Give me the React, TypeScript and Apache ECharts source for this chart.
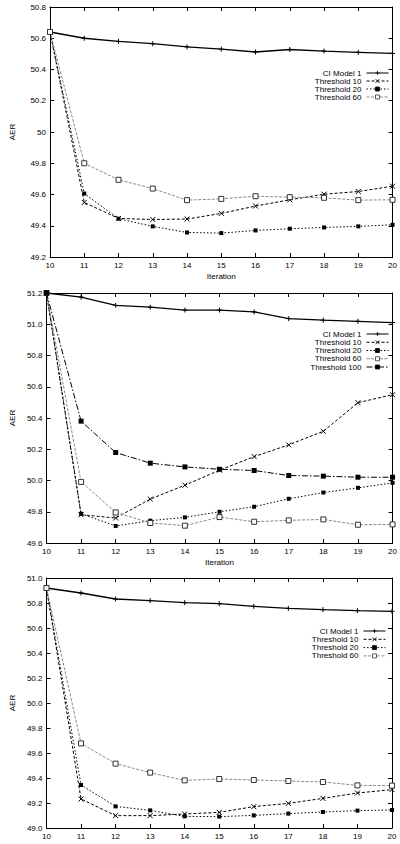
import React, { useEffect, useRef } from "react";
import * as echarts from "echarts";

const iterations = [10, 11, 12, 13, 14, 15, 16, 17, 18, 19, 20];

// Chart 1
const ci1 = [50.64, 50.6, 50.58, 50.565, 50.545, 50.53, 50.512, 50.528, 50.518, 50.51, 50.503];
const t10_1 = [50.64, 49.549, 49.447, 49.44, 49.443, 49.479, 49.526, 49.566, 49.602, 49.619, 49.653];
const t20_1 = [50.64, 49.606, 49.445, 49.396, 49.357, 49.353, 49.37, 49.381, 49.389, 49.396, 49.406];
const t60_1 = [50.64, 49.8, 49.694, 49.638, 49.564, 49.572, 49.589, 49.583, 49.579, 49.564, 49.566];

// Chart 2
const ci2 = [51.2, 51.174, 51.121, 51.109, 51.091, 51.091, 51.079, 51.036, 51.026, 51.019, 51.011];
const t10_2 = [51.2, 49.781, 49.76, 49.881, 49.97, 50.066, 50.153, 50.228, 50.315, 50.498, 50.549];
const t20_2 = [51.2, 49.787, 49.709, 49.743, 49.764, 49.8, 49.832, 49.883, 49.923, 49.953, 49.985];
const t60_2 = [51.2, 49.991, 49.796, 49.728, 49.711, 49.766, 49.736, 49.745, 49.751, 49.717, 49.719];
const t100_2 = [51.2, 50.38, 50.179, 50.111, 50.087, 50.072, 50.064, 50.032, 50.028, 50.021, 50.021];

// Chart 3
const ci3 = [50.92, 50.88, 50.832, 50.819, 50.803, 50.795, 50.773, 50.757, 50.747, 50.739, 50.733];
const t10_3 = [50.92, 49.232, 49.099, 49.099, 49.112, 49.125, 49.171, 49.197, 49.237, 49.28, 49.307];
const t20_3 = [50.92, 49.344, 49.173, 49.141, 49.093, 49.091, 49.101, 49.115, 49.128, 49.139, 49.144];
const t60_3 = [50.92, 49.677, 49.515, 49.443, 49.381, 49.392, 49.384, 49.376, 49.368, 49.341, 49.339];

const yRanges = [
  [49.2, 50.8],
  [49.6, 51.2],
  [49.0, 51.0],
];

const FONT = "Liberation Sans, Arial, Helvetica, sans-serif";

const PLUS = "path://M5,0L5,10M0,5L10,5";
const CROSS = "path://M0,0L10,10M10,0L0,10";

const styles: Record<string, any> = {
  "CI Model 1": {
    symbol: PLUS,
    symbolSize: 5,
    lineStyle: { color: "#000", width: 1.3, type: "solid" },
    itemStyle: { color: "#000", borderColor: "#000", borderWidth: 1 },
  },
  "Threshold 10": {
    symbol: CROSS,
    symbolSize: 5,
    lineStyle: { color: "#000", width: 1, type: [3, 2] },
    itemStyle: { color: "#000", borderColor: "#000", borderWidth: 1 },
  },
  "Threshold 20": {
    symbol: "rect",
    symbolSize: 4,
    lineStyle: { color: "#000", width: 1, type: [1.5, 2] },
    itemStyle: { color: "#000", borderColor: "#000", borderWidth: 0 },
  },
  "Threshold 60": {
    symbol: "rect",
    symbolSize: 5,
    lineStyle: { color: "#8a8a8a", width: 1, type: [3, 1.5] },
    itemStyle: { color: "#fff", borderColor: "#333", borderWidth: 1 },
  },
  "Threshold 100": {
    symbol: "rect",
    symbolSize: 5,
    lineStyle: { color: "#000", width: 1, type: [6, 2, 1.5, 2] },
    itemStyle: { color: "#000", borderColor: "#000", borderWidth: 0 },
  },
};

const chartSeries: Array<Array<[string, number[]]>> = [
  [
    ["CI Model 1", ci1],
    ["Threshold 10", t10_1],
    ["Threshold 20", t20_1],
    ["Threshold 60", t60_1],
  ],
  [
    ["CI Model 1", ci2],
    ["Threshold 10", t10_2],
    ["Threshold 20", t20_2],
    ["Threshold 60", t60_2],
    ["Threshold 100", t100_2],
  ],
  [
    ["CI Model 1", ci3],
    ["Threshold 10", t10_3],
    ["Threshold 20", t20_3],
    ["Threshold 60", t60_3],
  ],
];

const grids = [
  { left: 47, top: 7, width: 347, height: 250 },
  { left: 43, top: 293, width: 351, height: 250 },
  { left: 40, top: 578, width: 352, height: 250 },
];

const legendPos = [
  { right: 11, top: 69, gap: 0 },
  { right: 11, top: 330, gap: 0.25 },
  { right: 14, top: 627, gap: 0.3 },
];

const yNameGap = [34, 30, 27];
const xNames = ["Iteration", "Iteration", ""];

export default function App() {
  const ref = useRef<HTMLDivElement>(null);
  useEffect(() => {
    if (!ref.current) return;
    const chart = echarts.init(ref.current, undefined, { renderer: "svg" });
    const axisLine = { show: true, onZero: false, lineStyle: { color: "#000", width: 1 } };
    const axisTick = { show: true, inside: true, length: 4, lineStyle: { color: "#000", width: 1 } };
    const labelStyle = { color: "#000", fontSize: 8, fontFamily: FONT };

    const xAxis: any[] = [];
    const yAxis: any[] = [];
    grids.forEach((_, g) => {
      xAxis.push({
        type: "value",
        gridIndex: g,
        position: "bottom",
        min: 10,
        max: 20,
        interval: 1,
        axisLine,
        axisTick,
        splitLine: { show: false },
        axisLabel: { ...labelStyle, margin: 4 },
        name: xNames[g],
        nameLocation: "middle",
        nameGap: 15,
        nameTextStyle: { ...labelStyle },
      });
    });
    grids.forEach((_, g) => {
      xAxis.push({
        type: "value",
        gridIndex: g,
        position: "top",
        min: 10,
        max: 20,
        interval: 1,
        axisLine,
        axisTick,
        splitLine: { show: false },
        axisLabel: { show: false },
      });
    });
    grids.forEach((_, g) => {
      yAxis.push({
        type: "value",
        gridIndex: g,
        position: "left",
        min: yRanges[g][0],
        max: yRanges[g][1],
        interval: 0.2,
        axisLine,
        axisTick,
        splitLine: { show: false },
        axisLabel: {
          ...labelStyle,
          margin: 4,
          formatter: (v: number) => (g === 0 ? String(+v.toFixed(1)) : v.toFixed(1)),
        },
        name: "AER",
        nameLocation: "middle",
        nameRotate: 90,
        nameGap: yNameGap[g],
        nameTextStyle: { ...labelStyle },
      });
    });
    grids.forEach((_, g) => {
      yAxis.push({
        type: "value",
        gridIndex: g,
        position: "right",
        min: yRanges[g][0],
        max: yRanges[g][1],
        interval: 0.2,
        axisLine,
        axisTick,
        splitLine: { show: false },
        axisLabel: { show: false },
      });
    });

    const series: any[] = [];
    chartSeries.forEach((list, g) => {
      list.forEach(([name, vals]) => {
        const st = styles[name];
        series.push({
          type: "line",
          name,
          xAxisIndex: g,
          yAxisIndex: g,
          data: iterations.map((x, i) => [x, vals[i]]),
          symbol: st.symbol,
          symbolSize: st.symbolSize,
          showAllSymbol: true,
          lineStyle: st.lineStyle,
          itemStyle: st.itemStyle,
          clip: false,
          emphasis: { disabled: true },
        });
      });
    });

    const legend = chartSeries.map((list, g) => ({
      orient: "vertical",
      align: "right",
      right: legendPos[g].right,
      top: legendPos[g].top,
      itemWidth: 22,
      itemHeight: 5,
      itemGap: legendPos[g].gap,
      padding: 0,
      selectedMode: false,
      lineStyle: { width: 1 },
      itemStyle: { borderWidth: 0.8 },
      textStyle: { ...labelStyle, lineHeight: 8, height: 8 },
      data: list.map(([n]) => n),
    }));

    chart.setOption({
      animation: false,
      backgroundColor: "#fff",
      grid: grids,
      xAxis,
      yAxis,
      legend,
      series,
    });
    return () => chart.dispose();
  }, []);
  return (
    <div
      ref={ref}
      style={{ position: "absolute", left: 0, top: 0, width: 400, height: 844 }}
    />
  );
}
